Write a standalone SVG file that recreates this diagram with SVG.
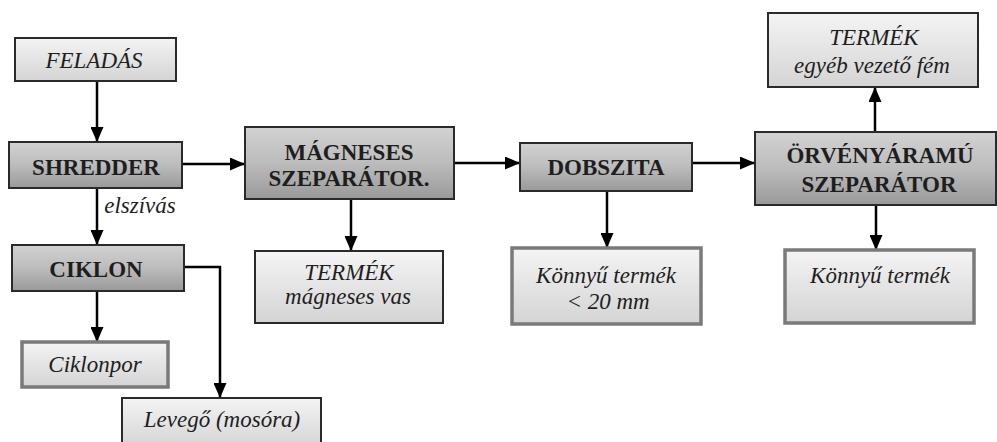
<svg xmlns="http://www.w3.org/2000/svg" width="997" height="442" viewBox="0 0 997 442">
<defs>
<linearGradient id="gDark" x1="0" y1="0" x2="0" y2="1">
<stop offset="0" stop-color="#d2d2d2"/>
<stop offset="0.5" stop-color="#bcbcbc"/>
<stop offset="1" stop-color="#999"/>
</linearGradient>
<linearGradient id="gLight" x1="0" y1="0" x2="0" y2="1">
<stop offset="0" stop-color="#f4f4f4"/>
<stop offset="1" stop-color="#d4d4d4"/>
</linearGradient>
<marker id="ah" markerUnits="userSpaceOnUse" markerWidth="15" markerHeight="13" viewBox="0 0 15 13" refX="14" refY="6.5" orient="auto">
<path d="M0,0 L15,6.5 L0,13 Z" fill="#000"/>
</marker>
</defs>
<g id="connectors" fill="none" stroke="#000" stroke-width="2.5">
<path d="M97,81 V141" marker-end="url(#ah)"/>
<path d="M182,164 H244" marker-end="url(#ah)"/>
<path d="M97,188 V244" marker-end="url(#ah)"/>
<path d="M97,291 V341" marker-end="url(#ah)"/>
<path d="M184,267 H220 V397" marker-end="url(#ah)"/>
<path d="M351,199 V250" marker-end="url(#ah)"/>
<path d="M454,163 H519" marker-end="url(#ah)"/>
<path d="M607,191 V247" marker-end="url(#ah)"/>
<path d="M692,163 H754" marker-end="url(#ah)"/>
<path d="M875,132 V88" marker-end="url(#ah)"/>
<path d="M876,205 V249" marker-end="url(#ah)"/>
<text x="140" y="213" stroke="none" fill="#1e1e1e" font-family="Liberation Serif, serif" font-style="italic" font-size="23" text-anchor="middle">elszívás</text>
</g>
<g id="nodes" font-family="Liberation Serif, serif" font-size="23" text-anchor="middle">
<g id="process" fill="url(#gDark)" stroke="#2a2a2a" stroke-width="2">
<g id="shredder"><rect x="9" y="142" width="173" height="46"/><text x="96" y="175" stroke="none" fill="#1e1e1e" font-weight="bold">SHREDDER</text></g>
<g id="ciklon"><rect x="12" y="245" width="172" height="46"/><text x="96" y="277" stroke="none" fill="#1e1e1e" font-weight="bold">CIKLON</text></g>
<g id="magneses"><rect x="245" y="127" width="209" height="72"/><text x="349" y="160" stroke="none" fill="#1e1e1e" font-weight="bold">MÁGNESES</text><text x="349" y="186" stroke="none" fill="#1e1e1e" font-weight="bold">SZEPARÁTOR.</text></g>
<g id="dobszita"><rect x="520" y="143" width="172" height="48"/><text x="606" y="175" stroke="none" fill="#1e1e1e" font-weight="bold">DOBSZITA</text></g>
<g id="orveny"><rect x="755" y="132" width="241" height="73"/><text x="880" y="163" stroke="none" fill="#1e1e1e" font-weight="bold">ÖRVÉNYÁRAMÚ</text><text x="879" y="192" stroke="none" fill="#1e1e1e" font-weight="bold">SZEPARÁTOR</text></g>
</g>
<g id="products" fill="url(#gLight)" stroke="#2a2a2a" stroke-width="2" font-style="italic">
<g id="feladas"><rect x="15" y="38" width="161" height="43"/><text x="94" y="68" stroke="none" fill="#1e1e1e">FELADÁS</text></g>
<g id="levego"><rect x="122" y="398" width="199" height="50"/><text x="222" y="427" stroke="none" fill="#1e1e1e">Levegő (mosóra)</text></g>
<g id="termek-vas"><rect x="255" y="251" width="188" height="72"/><text x="349" y="280" stroke="none" fill="#1e1e1e">TERMÉK</text><text x="348" y="304" stroke="none" fill="#1e1e1e">mágneses vas</text></g>
<g id="termek-fem"><rect x="768" y="13" width="210" height="74"/><text x="874" y="45" stroke="none" fill="#1e1e1e">TERMÉK</text><text x="872" y="73" stroke="none" fill="#1e1e1e">egyéb vezető fém</text></g>
</g>
<g id="products-grey" fill="url(#gLight)" stroke="#7a7a7a" stroke-width="3.5" font-style="italic">
<g id="ciklonpor"><rect x="22" y="342" width="146" height="45"/><text x="95" y="372" stroke="none" fill="#1e1e1e">Ciklonpor</text></g>
<g id="konnyu20"><rect x="512" y="248" width="189" height="76"/><text x="606" y="283" stroke="none" fill="#1e1e1e">Könnyű termék</text><text x="608" y="309" stroke="none" fill="#1e1e1e">&lt; 20 mm</text></g>
<g id="konnyu"><rect x="785" y="250" width="189" height="73"/><text x="880" y="283" stroke="none" fill="#1e1e1e">Könnyű termék</text></g>
</g>
</g>
</svg>
